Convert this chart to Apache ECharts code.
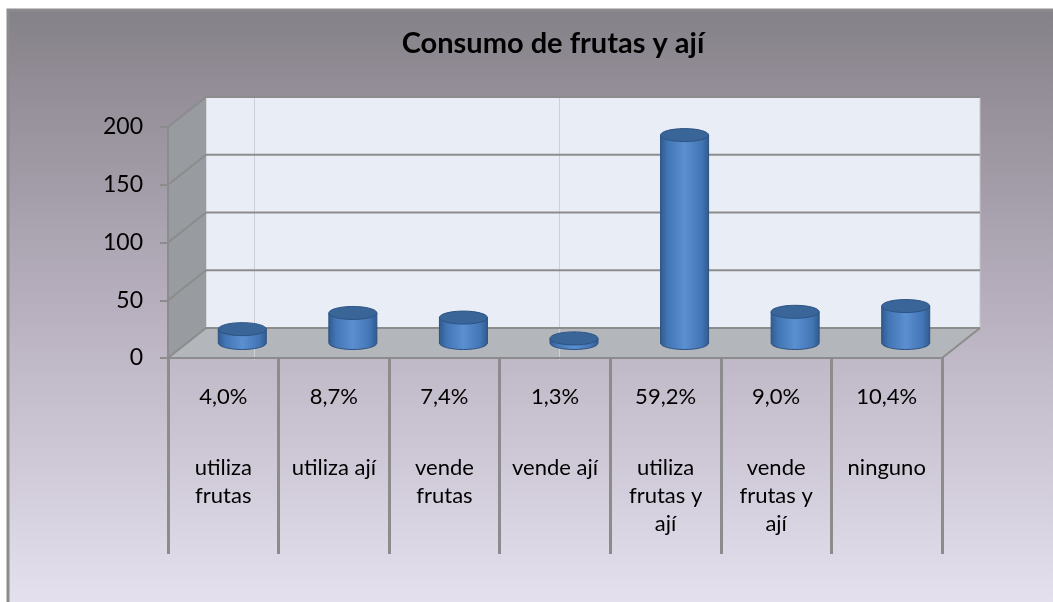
<!DOCTYPE html>
<html>
<head>
<meta charset="utf-8">
<title>Consumo de frutas y ají</title>
<script src="https://cdn.jsdelivr.net/npm/echarts@6/dist/echarts.min.js"></script>
<style>
  html, body { margin: 0; padding: 0; background: #fff; }
  #chart { width: 1053px; height: 602px; }
</style>
</head>
<body>
<div id="chart"></div>
<script>
// datos (saltos de linea como en el original)
var categories = ['utiliza\nfrutas', 'utiliza ají', 'vende\nfrutas', 'vende ají', 'utiliza\nfrutas y\nají', 'vende\nfrutas y\nají', 'ninguno'];
var pctLabels = ['4,0%', '8,7%', '7,4%', '1,3%', '59,2%', '9,0%', '10,4%'];
var values = [12, 26, 22, 4, 180, 27, 32];
var yTicks = [0, 50, 100, 150, 200];

var DX = 38, DY = -30;   // profundidad del "3D"
var GRID_COLOR = '#8c8c8c';
var FONT = 'Lato, "Open Sans", sans-serif';

var chart = echarts.init(document.getElementById('chart'));

// paredes, piso y lineas de la cuadricula
function renderWalls(params, api) {
    var cs = params.coordSys;
    var x0 = cs.x, x1 = cs.x + cs.width, y0 = cs.y, yb = cs.y + cs.height;
    var kids = [];
    kids.push({
        type: 'rect',
        shape: { x: x0 + DX, y: y0 + DY, width: x1 - x0, height: yb - y0 },
        style: { fill: '#e9edf5', stroke: '#c4c6ca', lineWidth: 1 }
    });
    kids.push({
        type: 'polygon',
        shape: { points: [[x0, yb], [x0 + DX, yb + DY], [x0 + DX, y0 + DY], [x0, y0]] },
        style: { fill: '#989b9f' }
    });
    kids.push({
        type: 'polygon',
        shape: { points: [[x0, yb], [x1, yb], [x1 + DX, yb + DY], [x0 + DX, yb + DY]] },
        style: { fill: '#b3b6ba' }
    });
    // lineas verticales claras del fondo
    [0.062, 0.456].forEach(function (f) {
        var xx = Math.round(x0 + DX + (x1 - x0) * f) + 0.5;
        kids.push({
            type: 'line',
            shape: { x1: xx, y1: y0 + DY, x2: xx, y2: yb + 2 },
            style: { stroke: '#cdd0d6', lineWidth: 1 }
        });
    });
    yTicks.forEach(function (v) {
        var y = api.coord([0, v])[1];
        kids.push({
            type: 'line',
            shape: { x1: x0 + DX, y1: y + DY, x2: x1 + DX, y2: y + DY },
            style: { stroke: GRID_COLOR, lineWidth: 2 }
        });
        kids.push({
            type: 'line',
            shape: { x1: x0, y1: y, x2: x0 + DX, y2: y + DY },
            style: { stroke: GRID_COLOR, lineWidth: 2 }
        });
    });
    kids.push({
        type: 'line',
        shape: { x1: x1, y1: yb, x2: x1 + DX, y2: yb + DY },
        style: { stroke: GRID_COLOR, lineWidth: 2 }
    });
    return { type: 'group', children: kids };
}

// cilindros
function renderCylinder(params, api) {
    var top = api.coord([api.value(0), api.value(1)]);
    var base = api.coord([api.value(0), 0]);
    var cx = top[0] + DX / 2;
    var ty = top[1] + DY / 2;
    var by = base[1] + DY / 2;
    var rx = 24, ry = 6.5;
    var side = new echarts.graphic.LinearGradient(0, 0, 1, 0, [
        { offset: 0, color: '#2f5a8d' },
        { offset: 0.15, color: '#4275b4' },
        { offset: 0.5, color: '#5a8fd1' },
        { offset: 0.85, color: '#4275b4' },
        { offset: 1, color: '#2f5a8d' }
    ]);
    var body = 'M' + (cx - rx) + ',' + ty +
        ' L' + (cx - rx) + ',' + by +
        ' A' + rx + ',' + ry + ' 0 0 0 ' + (cx + rx) + ',' + by +
        ' L' + (cx + rx) + ',' + ty + ' Z';
    return {
        type: 'group',
        children: [
            {
                type: 'path',
                shape: { pathData: body },
                style: { fill: side, stroke: '#2c5282', lineWidth: 1 }
            },
            {
                type: 'ellipse',
                shape: { cx: cx, cy: ty, rx: rx, ry: ry },
                style: { fill: '#3a6599', stroke: '#2c5282', lineWidth: 1 }
            }
        ]
    };
}

var option = {
    animation: false,
    graphic: [{
        type: 'rect',
        z: -10,
        shape: { x: 8, y: 10, width: 1060, height: 600 },
        style: {
            fill: new echarts.graphic.LinearGradient(0, 0, 0, 1, [
                { offset: 0, color: '#858188' },
                { offset: 0.5, color: '#b8b0bf' },
                { offset: 1, color: '#e6e2ef' }
            ]),
            stroke: '#8c8c8c',
            lineWidth: 3
        }
    }],
    title: {
        text: 'Consumo de frutas y ají',
        left: 548,
        textAlign: 'center',
        top: 24,
        textStyle: { fontFamily: FONT, fontSize: 29, fontWeight: 'bold', color: '#000' }
    },
    grid: { left: 168, right: 111, top: 127, bottom: 244 },
    xAxis: [{
        type: 'category',
        data: categories,
        position: 'bottom',
        axisLine: { show: true, lineStyle: { color: GRID_COLOR, width: 2 } },
        axisTick: { show: true, interval: 0, length: 196, lineStyle: { color: GRID_COLOR, width: 3 } },
        axisLabel: {
            interval: 0, margin: 96,
            lineHeight: 28, fontSize: 22, color: '#000', fontFamily: FONT
        }
    }, {
        type: 'category',
        data: pctLabels,
        position: 'bottom',
        axisLine: { show: false },
        axisTick: { show: false },
        axisLabel: { interval: 0, margin: 25, lineHeight: 28, fontSize: 22, color: '#000', fontFamily: FONT }
    }],
    yAxis: {
        type: 'value',
        min: 0,
        max: 200,
        interval: 50,
        axisLine: { show: true, lineStyle: { color: GRID_COLOR, width: 2 } },
        axisTick: { show: true, length: 8, lineStyle: { color: GRID_COLOR, width: 2 } },
        splitLine: { show: false },
        axisLabel: { margin: 25, fontSize: 23, color: '#000', fontFamily: FONT }
    },
    series: [{
        type: 'custom',
        z: -1,
        silent: true,
        renderItem: renderWalls,
        data: [[0, 0]]
    }, {
        type: 'custom',
        z: 3,
        renderItem: renderCylinder,
        encode: { x: 0, y: 1 },
        data: values.map(function (v, i) { return [i, v]; })
    }]
};

chart.setOption(option);
</script>
</body>
</html>
